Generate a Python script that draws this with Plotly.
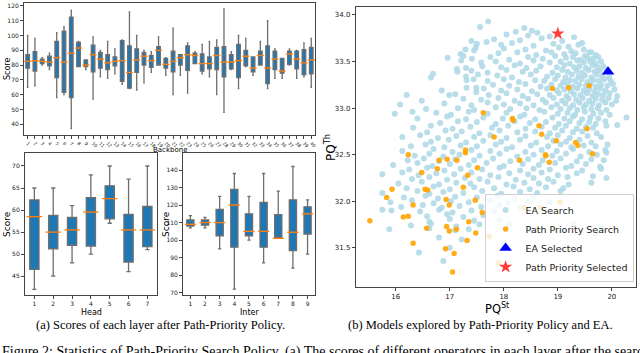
import plotly.graph_objects as go

# ---- (a) box plot statistics ----
BACKBONE_ID = list(range(1, 41))
BACKBONE_LOW = [65, 66, 80, 77, 58, 60, 37, 79, 77, 57, 72, 71, 74, 67, 64, 63, 68, 75, 80, 73,
                60, 73, 61, 81, 74, 72, 60, 48, 77, 64, 79, 73, 80, 64, 71, 71, 80, 71, 72, 65]
BACKBONE_Q1 = [78, 76, 81, 79.5, 71.5, 61.5, 58, 79, 79, 75.5, 78, 77, 79.5, 69, 64.5, 75, 80, 78.5, 80, 78,
               75.5, 80, 76.5, 81, 76, 77.5, 77, 72, 77.5, 71.5, 79.5, 75.5, 80, 67.5, 77, 74.5, 80.5, 77.5, 73.5, 74]
BACKBONE_MED = [82.5, 83, 82.5, 82, 85, 82, 88, 91.5, 80, 87, 84, 81.5, 82.5, 83, 75, 83.5, 86, 83, 90, 80.5,
                82.5, 85, 87, 86.5, 81, 81, 86.5, 82, 82, 83, 86, 78, 86.5, 78, 84, 76, 87.5, 84, 81.5, 83.5]
BACKBONE_Q3 = [87, 89, 84, 86, 96, 103, 112.5, 95.5, 83.5, 93.5, 88.5, 87, 85.5, 96.5, 93, 91, 88.5, 86.5, 92.5, 84.5,
               89.5, 87, 93, 88, 87.5, 85.5, 92, 92.5, 87, 94, 90, 85.5, 89.5, 93, 89.5, 84.5, 89.5, 89.5, 90.5, 92]
BACKBONE_HIGH = [100, 98, 85, 88, 102, 106, 117, 96, 83.5, 99, 90, 96, 91, 97, 116, 100, 90, 89, 99, 85,
                 105, 87, 95, 89, 94, 96, 97, 118, 89, 100, 98, 85.5, 96, 110, 91, 84.5, 91, 90, 95, 98]

HEAD_ID = list(range(1, 8))
HEAD_LOW = [42, 45, 48, 50, 57, 46, 51]
HEAD_Q1 = [46.5, 51.2, 52, 51.8, 58, 48.2, 51.7]
HEAD_MED = [58.5, 55, 55.5, 59.5, 62.6, 55.5, 55.5]
HEAD_Q3 = [62.3, 58.8, 58.3, 62.8, 65.5, 59, 60.8]
HEAD_HIGH = [65, 65, 61, 68, 70, 67, 70]

INTER_ID = list(range(1, 10))
INTER_LOW = [107, 107, 95, 72, 100, 87, 101, 84, 92]
INTER_Q1 = [108, 108.5, 102.5, 96, 102.5, 96, 101, 94, 103.5]
INTER_MED = [109, 110, 110, 120, 105, 105, 101, 104.5, 115]
INTER_Q3 = [111.5, 111.5, 117.5, 129, 115, 121.5, 114.5, 123, 119]
INTER_HIGH = [114, 113, 125, 138, 125, 138, 128, 142, 123]

# ---- (b) explored models, (PQ^St, PQ^Th) ----
EA_SEARCH = [
    (17.71, 33.93), (17.56, 33.87),
    (18.38, 33.86), (18.52, 33.83), (18.22, 33.82),
    (18.45, 33.78), (18.62, 33.81), (18.85, 33.77), (19.30, 33.76), (18.05, 33.79),
    (17.82, 33.74), (18.30, 33.73), (18.70, 33.75), (19.08, 33.72), (19.45, 33.70), (17.40, 33.72),
    (17.50, 33.69), (17.68, 33.71), (17.95, 33.68), (18.15, 33.70), (18.55, 33.67), (18.92, 33.69),
    (19.20, 33.66), (19.38, 33.68), (17.48, 33.65),
    (17.29, 33.63), (17.45, 33.62), (18.00, 33.64), (18.40, 33.63), (18.78, 33.62), (19.02, 33.65),
    (19.25, 33.61), (19.48, 33.63), (19.62, 33.60),
    (17.20, 33.58), (17.90, 33.59), (18.25, 33.60), (18.60, 33.57), (18.88, 33.60), (19.12, 33.58),
    (19.33, 33.59), (19.50, 33.56), (19.58, 33.60), (19.70, 33.57),
    (16.96, 33.54), (17.25, 33.56), (17.41, 33.53), (17.75, 33.55), (18.10, 33.52), (18.45, 33.55),
    (18.72, 33.53), (18.95, 33.56), (19.15, 33.54), (19.28, 33.55), (19.42, 33.52), (19.55, 33.54),
    (19.65, 33.53), (19.75, 33.55),
    (17.21, 33.51), (17.58, 33.49), (17.85, 33.50), (18.30, 33.48), (18.55, 33.51), (18.85, 33.49),
    (19.05, 33.50), (19.22, 33.48), (19.36, 33.51), (19.48, 33.49), (19.60, 33.50), (19.70, 33.48),
    (19.80, 33.50),
    (17.13, 33.42), (17.30, 33.43), (17.60, 33.45), (17.95, 33.44), (18.20, 33.46), (18.42, 33.43),
    (18.68, 33.45), (18.98, 33.44), (19.12, 33.46), (19.30, 33.44), (19.40, 33.45), (19.52, 33.43),
    (19.64, 33.46), (19.74, 33.44), (19.84, 33.45),
    (16.69, 33.37), (17.14, 33.39), (17.40, 33.40), (17.70, 33.38), (18.05, 33.41), (18.35, 33.39),
    (18.60, 33.40), (18.90, 33.38), (19.08, 33.41), (19.18, 33.39), (19.35, 33.40), (19.45, 33.38),
    (19.57, 33.41), (19.68, 33.39), (19.78, 33.40), (19.90, 33.42),
    (16.65, 33.33), (17.30, 33.34), (17.52, 33.36), (17.88, 33.35), (18.15, 33.33), (18.50, 33.36),
    (18.80, 33.34), (19.00, 33.35), (19.14, 33.33), (19.26, 33.36), (19.38, 33.34), (19.50, 33.35),
    (19.62, 33.33), (19.72, 33.36), (19.82, 33.34), (19.95, 33.33),
    (17.31, 33.30), (17.44, 33.31), (17.70, 33.29), (18.00, 33.31), (18.28, 33.28), (18.58, 33.30),
    (18.75, 33.29), (18.95, 33.31), (19.10, 33.28), (19.22, 33.30), (19.32, 33.29), (19.44, 33.31),
    (19.55, 33.28), (19.66, 33.30), (19.76, 33.29), (19.86, 33.31), (19.98, 33.29),
    (16.85, 33.19), (17.49, 33.22), (17.80, 33.25), (18.10, 33.24), (18.40, 33.26), (18.68, 33.23),
    (18.88, 33.25), (19.05, 33.24), (19.18, 33.26), (19.28, 33.23), (19.40, 33.25), (19.52, 33.24),
    (19.60, 33.26), (19.70, 33.23), (19.80, 33.25), (19.92, 33.24), (20.02, 33.26),
    (16.20, 33.14), (16.99, 33.14), (17.31, 33.22), (17.63, 33.21), (17.95, 33.19), (18.25, 33.20),
    (18.52, 33.18), (18.80, 33.21), (18.98, 33.19), (19.12, 33.20), (19.24, 33.18), (19.36, 33.21),
    (19.48, 33.19), (19.58, 33.20), (19.68, 33.18), (19.78, 33.21), (19.88, 33.19), (20.05, 33.20),
    (17.10, 33.15), (17.49, 33.17), (17.72, 33.14), (18.05, 33.16), (18.35, 33.13), (18.62, 33.15),
    (18.85, 33.14), (19.02, 33.16), (19.16, 33.13), (19.30, 33.15), (19.42, 33.14), (19.54, 33.16),
    (19.64, 33.13), (19.74, 33.15), (19.84, 33.14), (19.96, 33.16), (20.10, 33.13),
    (16.48, 33.08), (17.25, 33.10), (17.58, 33.09), (17.90, 33.11), (18.20, 33.08), (18.45, 33.10),
    (18.72, 33.09), (18.92, 33.11), (19.08, 33.08), (19.20, 33.10), (19.34, 33.09), (19.46, 33.11),
    (19.58, 33.08), (19.70, 33.10), (19.82, 33.09), (19.94, 33.11), (20.08, 33.08),
    (16.08, 33.04), (16.90, 33.05), (17.40, 33.03), (17.70, 33.06), (18.00, 33.04), (18.30, 33.05),
    (18.55, 33.03), (18.78, 33.06), (18.98, 33.04), (19.14, 33.05), (19.28, 33.03), (19.40, 33.06),
    (19.52, 33.04), (19.64, 33.05), (19.76, 33.03), (19.88, 33.06), (20.00, 33.04),
    (16.56, 32.99), (17.15, 33.00), (17.45, 32.98), (17.85, 33.01), (18.12, 32.99), (18.42, 33.00),
    (18.66, 32.98), (18.88, 33.01), (19.05, 32.99), (19.22, 33.00), (19.36, 32.98), (19.48, 33.01),
    (19.62, 32.99), (19.74, 33.00), (19.90, 32.98),
    (15.98, 32.94), (16.31, 32.96), (16.75, 32.95), (17.02, 32.93), (17.35, 32.96), (17.70, 32.94),
    (18.05, 32.95), (18.38, 32.93), (18.75, 32.96), (19.00, 32.94), (19.18, 32.95), (19.32, 32.93),
    (19.50, 32.96), (19.66, 32.94), (19.80, 32.95), (19.96, 32.93),
    (16.40, 32.89), (16.95, 32.91), (17.30, 32.88), (17.62, 32.90), (17.98, 32.89), (18.30, 32.91),
    (18.58, 32.88), (18.90, 32.90), (19.12, 32.89), (19.28, 32.91), (19.45, 32.88), (19.60, 32.90),
    (19.75, 32.89), (20.27, 32.90),
    (16.82, 32.84), (17.15, 32.86), (17.50, 32.85), (17.85, 32.83), (18.20, 32.86), (18.48, 32.84),
    (18.78, 32.85), (19.02, 32.83), (19.22, 32.86), (19.40, 32.84), (19.58, 32.85), (19.70, 32.83),
    (19.88, 32.86), (20.10, 32.82),
    (16.32, 32.79), (16.65, 32.81), (17.05, 32.78), (17.38, 32.80), (17.78, 32.79), (18.08, 32.81),
    (18.40, 32.78), (18.70, 32.80), (18.95, 32.79), (19.15, 32.81), (19.35, 32.78), (19.52, 32.80),
    (19.65, 32.79), (19.90, 32.81),
    (16.58, 32.74), (16.92, 32.76), (17.22, 32.75), (17.55, 32.73), (17.92, 32.76), (18.25, 32.74),
    (18.58, 32.75), (18.85, 32.73), (19.08, 32.76), (19.28, 32.74), (19.45, 32.75), (19.72, 32.73),
    (16.12, 32.69), (16.45, 32.71), (16.78, 32.68), (17.12, 32.70), (17.45, 32.69), (17.75, 32.71),
    (18.05, 32.68), (18.40, 32.70), (18.80, 32.69), (19.00, 32.71), (19.22, 32.68), (19.55, 32.70),
    (19.80, 32.69),
    (16.65, 32.64), (16.98, 32.66), (17.30, 32.63), (17.62, 32.65), (17.95, 32.64), (18.30, 32.66),
    (18.60, 32.63), (18.92, 32.65), (19.15, 32.64), (19.40, 32.66), (19.62, 32.63),
    (16.28, 32.59), (16.55, 32.61), (16.90, 32.58), (17.20, 32.60), (17.50, 32.59), (17.85, 32.61),
    (18.15, 32.58), (18.50, 32.60), (18.82, 32.59), (19.05, 32.61), (19.25, 32.58), (19.48, 32.60),
    (19.70, 32.59), (19.92, 32.61),
    (16.12, 32.54), (16.70, 32.56), (17.05, 32.53), (17.40, 32.55), (17.75, 32.54), (18.05, 32.56),
    (18.40, 32.53), (18.70, 32.55), (18.98, 32.54), (19.28, 32.56), (19.58, 32.53), (19.88, 32.55),
    (16.35, 32.49), (16.62, 32.51), (16.88, 32.48), (17.18, 32.50), (17.55, 32.49), (17.92, 32.51),
    (18.25, 32.48), (18.55, 32.50), (18.90, 32.49), (19.15, 32.51), (19.42, 32.48), (19.72, 32.50),
    (19.90, 32.52),
    (16.22, 32.44), (16.52, 32.46), (16.80, 32.43), (17.10, 32.45), (17.45, 32.44), (17.80, 32.46),
    (18.12, 32.43), (18.45, 32.45), (18.72, 32.44), (19.05, 32.46), (19.35, 32.43), (19.62, 32.45),
    (19.85, 32.44),
    (15.95, 32.39), (16.40, 32.41), (16.68, 32.38), (17.00, 32.40), (17.35, 32.39), (17.68, 32.41),
    (18.00, 32.38), (18.35, 32.40), (18.65, 32.39), (18.95, 32.41), (19.25, 32.38), (19.52, 32.40),
    (19.78, 32.37),
    (16.25, 32.34), (16.58, 32.36), (16.90, 32.33), (17.20, 32.35), (17.60, 32.34), (17.92, 32.36),
    (18.30, 32.33), (18.55, 32.35), (18.85, 32.34), (19.15, 32.36), (19.45, 32.33), (19.80, 32.35),
    (15.75, 32.29), (16.12, 32.31), (16.42, 32.28), (16.75, 32.30), (17.08, 32.29), (17.40, 32.31),
    (17.75, 32.28), (18.10, 32.30), (18.45, 32.29), (18.70, 32.31), (19.00, 32.28), (19.35, 32.30),
    (19.65, 32.27),
    (16.30, 32.24), (16.62, 32.26), (16.95, 32.23), (17.28, 32.25), (17.55, 32.24), (17.90, 32.26),
    (18.22, 32.23), (18.55, 32.25), (18.82, 32.24), (19.18, 32.26), (19.90, 32.25),
    (16.05, 32.19), (16.48, 32.21), (16.80, 32.18), (17.12, 32.20), (17.38, 32.19), (17.70, 32.21),
    (18.05, 32.18), (18.38, 32.20), (18.65, 32.19), (18.92, 32.21), (19.20, 32.18), (19.62, 32.20),
    (16.20, 32.14), (16.70, 32.16), (17.00, 32.13), (17.45, 32.15), (17.82, 32.14), (18.18, 32.16),
    (18.48, 32.13), (18.78, 32.15), (19.10, 32.14),
    (15.75, 32.09), (16.40, 32.11), (16.62, 32.08), (16.88, 32.10), (17.25, 32.09), (17.60, 32.11),
    (17.95, 32.08), (18.30, 32.10), (18.62, 32.09), (19.05, 32.11),
    (16.15, 32.04), (16.55, 32.06), (16.78, 32.03), (17.10, 32.05), (17.50, 32.04), (17.88, 32.06),
    (18.20, 32.03), (18.55, 32.05),
    (15.90, 31.99), (16.30, 32.01), (16.70, 31.98), (17.02, 32.00), (17.35, 31.99), (17.75, 32.01),
    (18.08, 31.98), (18.45, 32.00), (18.85, 31.99),
    (16.10, 31.94), (16.50, 31.96), (16.85, 31.93), (17.18, 31.95), (17.58, 31.94), (17.92, 31.96),
    (18.30, 31.93),
    (15.75, 31.91), (15.92, 31.90), (16.45, 31.89), (16.80, 31.91), (17.05, 31.88), (17.40, 31.90),
    (17.82, 31.89),
    (16.58, 31.84), (16.95, 31.86), (17.25, 31.83), (17.62, 31.85),
    (16.62, 31.78), (17.00, 31.81), (17.45, 31.79), (17.92, 31.80),
    (16.28, 31.74), (16.65, 31.76), (17.12, 31.73), (17.55, 31.75), (18.10, 31.75), (19.30, 31.76),
    (15.88, 31.70), (16.62, 31.71), (17.10, 31.69), (17.35, 31.70), (18.50, 31.70), (19.80, 31.72),
    (16.80, 31.61), (17.22, 31.59), (19.70, 31.65), (18.00, 31.55),
    (17.00, 31.50), (16.43, 31.45), (16.88, 31.36),
]
PATH_SEARCH = [
    (18.90, 33.21), (19.20, 33.22), (19.58, 33.24), (17.62, 32.95), (18.16, 32.89), (18.17, 32.87),
    (18.65, 32.81), (18.70, 32.72), (19.54, 32.78), (17.82, 32.69), (18.97, 32.65), (19.33, 32.63),
    (19.37, 32.60), (19.64, 32.51), (18.77, 32.50), (17.29, 32.55), (17.29, 32.52), (16.23, 32.50),
    (16.80, 32.44), (16.95, 32.45), (17.13, 32.44), (16.48, 32.31), (16.77, 32.35), (17.33, 32.28),
    (17.51, 32.36), (17.25, 32.15), (16.54, 32.13), (16.59, 32.12), (15.93, 32.13), (15.83, 32.04),
    (16.93, 32.02), (16.99, 31.96), (16.32, 31.96), (17.47, 32.01), (17.60, 31.88), (18.37, 31.93),
    (18.68, 31.93), (19.04, 31.99), (16.23, 31.84), (16.14, 31.83), (15.52, 31.79), (17.35, 31.78),
    (16.57, 31.71), (16.94, 31.73), (16.99, 31.68), (17.12, 31.70), (17.48, 31.66), (17.73, 31.62),
    (17.32, 31.58), (16.32, 31.55), (16.92, 31.49), (17.08, 31.44), (17.05, 31.24), (18.29, 32.44),
    (18.78, 32.49), (18.84, 32.42), (17.90, 31.34),
]
EA_SELECTED = [(19.93, 33.39)]
PATH_SELECTED = [(19.00, 33.80)]

FONT = "DejaVu Sans"
SERIF = "Liberation Serif"
BOX_FILL = "#1f77b4"
BOX_EDGE = "#6e6e6e"
MEDIAN = "#ff7f0e"
FRAME = "#444444"
W, H = 640, 353


def box_panel(fig, xa, ya, ids, low, q1, med, q3, high, med_px):
    fig.add_trace(go.Box(
        x=ids, q1=q1, median=med, q3=q3, lowerfence=low, upperfence=high,
        xaxis=xa, yaxis=ya, fillcolor=BOX_FILL, whiskerwidth=0.45,
        line=dict(color=BOX_EDGE, width=1.3), showlegend=False, hoverinfo="skip",
    ))
    # orange median bar drawn over the box
    fig.add_trace(go.Scatter(
        x=ids, y=med, xaxis=xa, yaxis=ya, mode="markers", showlegend=False, hoverinfo="skip",
        marker=dict(symbol="line-ew", size=med_px, line=dict(color=MEDIAN, width=1.3)),
    ))


def label(text, px, py, size, angle=0, family=FONT, xanchor="center", yanchor="middle"):
    # free text centred on a pixel position of the 640x353 canvas
    return dict(text=text, x=px / W, y=1 - py / H, xref="paper", yref="paper", showarrow=False,
                xanchor=xanchor, yanchor=yanchor, textangle=angle,
                font=dict(family=family, size=size, color="black"))


fig = go.Figure()
box_panel(fig, "x", "y", BACKBONE_ID, BACKBONE_LOW, BACKBONE_Q1, BACKBONE_MED, BACKBONE_Q3, BACKBONE_HIGH, 5)
box_panel(fig, "x2", "y2", HEAD_ID, HEAD_LOW, HEAD_Q1, HEAD_MED, HEAD_Q3, HEAD_HIGH, 11)
box_panel(fig, "x3", "y3", INTER_ID, INTER_LOW, INTER_Q1, INTER_MED, INTER_Q3, INTER_HIGH, 8)

scatter_sets = [
    ("EA Search", EA_SEARCH, dict(color="#add8e6", size=6, opacity=0.85)),
    ("Path Priority Search", PATH_SEARCH, dict(color="#ffa500", size=5.5, opacity=0.9)),
    ("EA Selected", EA_SELECTED, dict(color="#0000ff", size=11, symbol="triangle-up")),
    ("Path Priority Selected", PATH_SELECTED, dict(color="#ff3b3b", size=10, symbol="star")),
]
for name, pts, mk in scatter_sets:
    fig.add_trace(go.Scatter(
        x=[p[0] for p in pts], y=[p[1] for p in pts], name=name, mode="markers",
        xaxis="x4", yaxis="y4", marker=dict(line=dict(width=0), **mk),
    ))

tick = dict(ticks="outside", ticklen=3, tickcolor=FRAME, showline=True, mirror=True,
            linecolor=FRAME, linewidth=1, showgrid=False, zeroline=False, automargin=False)
small = dict(family=FONT, size=6, color="#222")

fig.update_layout(
    template="none",
    width=W, height=H, margin=dict(l=0, r=0, t=0, b=0),
    paper_bgcolor="white", plot_bgcolor="white",
    font=dict(family=FONT, color="#222"),
    boxgap=0.3,
    xaxis=dict(domain=[0.0375, 0.492], anchor="y", range=[0.5, 40.5], tickvals=BACKBONE_ID,
               ticktext=[str(i) for i in BACKBONE_ID], tickangle=45, tickfont=dict(family=FONT, size=4.5), **tick),
    yaxis=dict(domain=[0.6176, 0.9915], anchor="x", range=[32.7, 122], tickvals=list(range(40, 121, 10)),
               tickfont=small, **tick),
    xaxis2=dict(domain=[0.039, 0.245], anchor="y2", range=[0.5, 7.5], tickvals=HEAD_ID, tickfont=small, **tick),
    yaxis2=dict(domain=[0.1643, 0.5666], anchor="x2", range=[40.7, 72.95], tickvals=[45, 50, 55, 60, 65, 70],
                tickfont=small, **tick),
    xaxis3=dict(domain=[0.286, 0.492], anchor="y3", range=[0.5, 9.5], tickvals=INTER_ID, tickfont=small, **tick),
    yaxis3=dict(domain=[0.1643, 0.5666], anchor="x3", range=[68.7, 149.7], tickvals=list(range(70, 141, 10)),
                tickfont=small, **tick),
    xaxis4=dict(domain=[0.556, 0.994], anchor="y4", range=[15.26, 20.45], tickvals=[16, 17, 18, 19, 20],
                tickfont=dict(family=FONT, size=7), **tick),
    yaxis4=dict(domain=[0.187, 0.980], anchor="x4", range=[31.08, 34.085],
                tickvals=[31.5, 32.0, 32.5, 33.0, 33.5, 34.0], tickformat=".1f",
                tickfont=dict(family=FONT, size=7), **tick),
    legend=dict(x=0.99, y=0.2, xanchor="right", yanchor="bottom", bgcolor="rgba(255,255,255,0.8)",
                bordercolor="#d0d0d0", borderwidth=1, font=dict(family=FONT, size=9.5),
                tracegroupgap=0, itemwidth=30),
    annotations=[
        label("Score", 7, 69, 8, angle=-90),
        label("Backbone", 170, 150, 7),
        label("Score", 7, 224, 9, angle=-90),
        label("Head", 91, 312, 8),
        label("Score", 166, 224, 9, angle=-90),
        label("Inter", 249, 312, 8),
        label("PQ<sup>Th</sup>", 330, 148, 12, angle=-90),
        label("PQ<sup>St</sup>", 497, 308, 11.5),
        label("(a) Scores of each layer after Path-Priority Policy.", 160, 325, 12.5, family=SERIF),
        label("(b) Models explored by Path-Priority Policy and EA.", 480, 325, 12.5, family=SERIF),
        label("Figure 2: Statistics of Path-Priority Search Policy. (a) The scores of different operators "
              "in each layer after the search", 0, 342, 14, family=SERIF, xanchor="left", yanchor="top"),
    ],
)

# drop the browser's default 8px body margin so the figure sits at the window origin
fig.write_html("out.html", config={"displayModeBar": False},
               post_script="document.body.style.margin='0';")
